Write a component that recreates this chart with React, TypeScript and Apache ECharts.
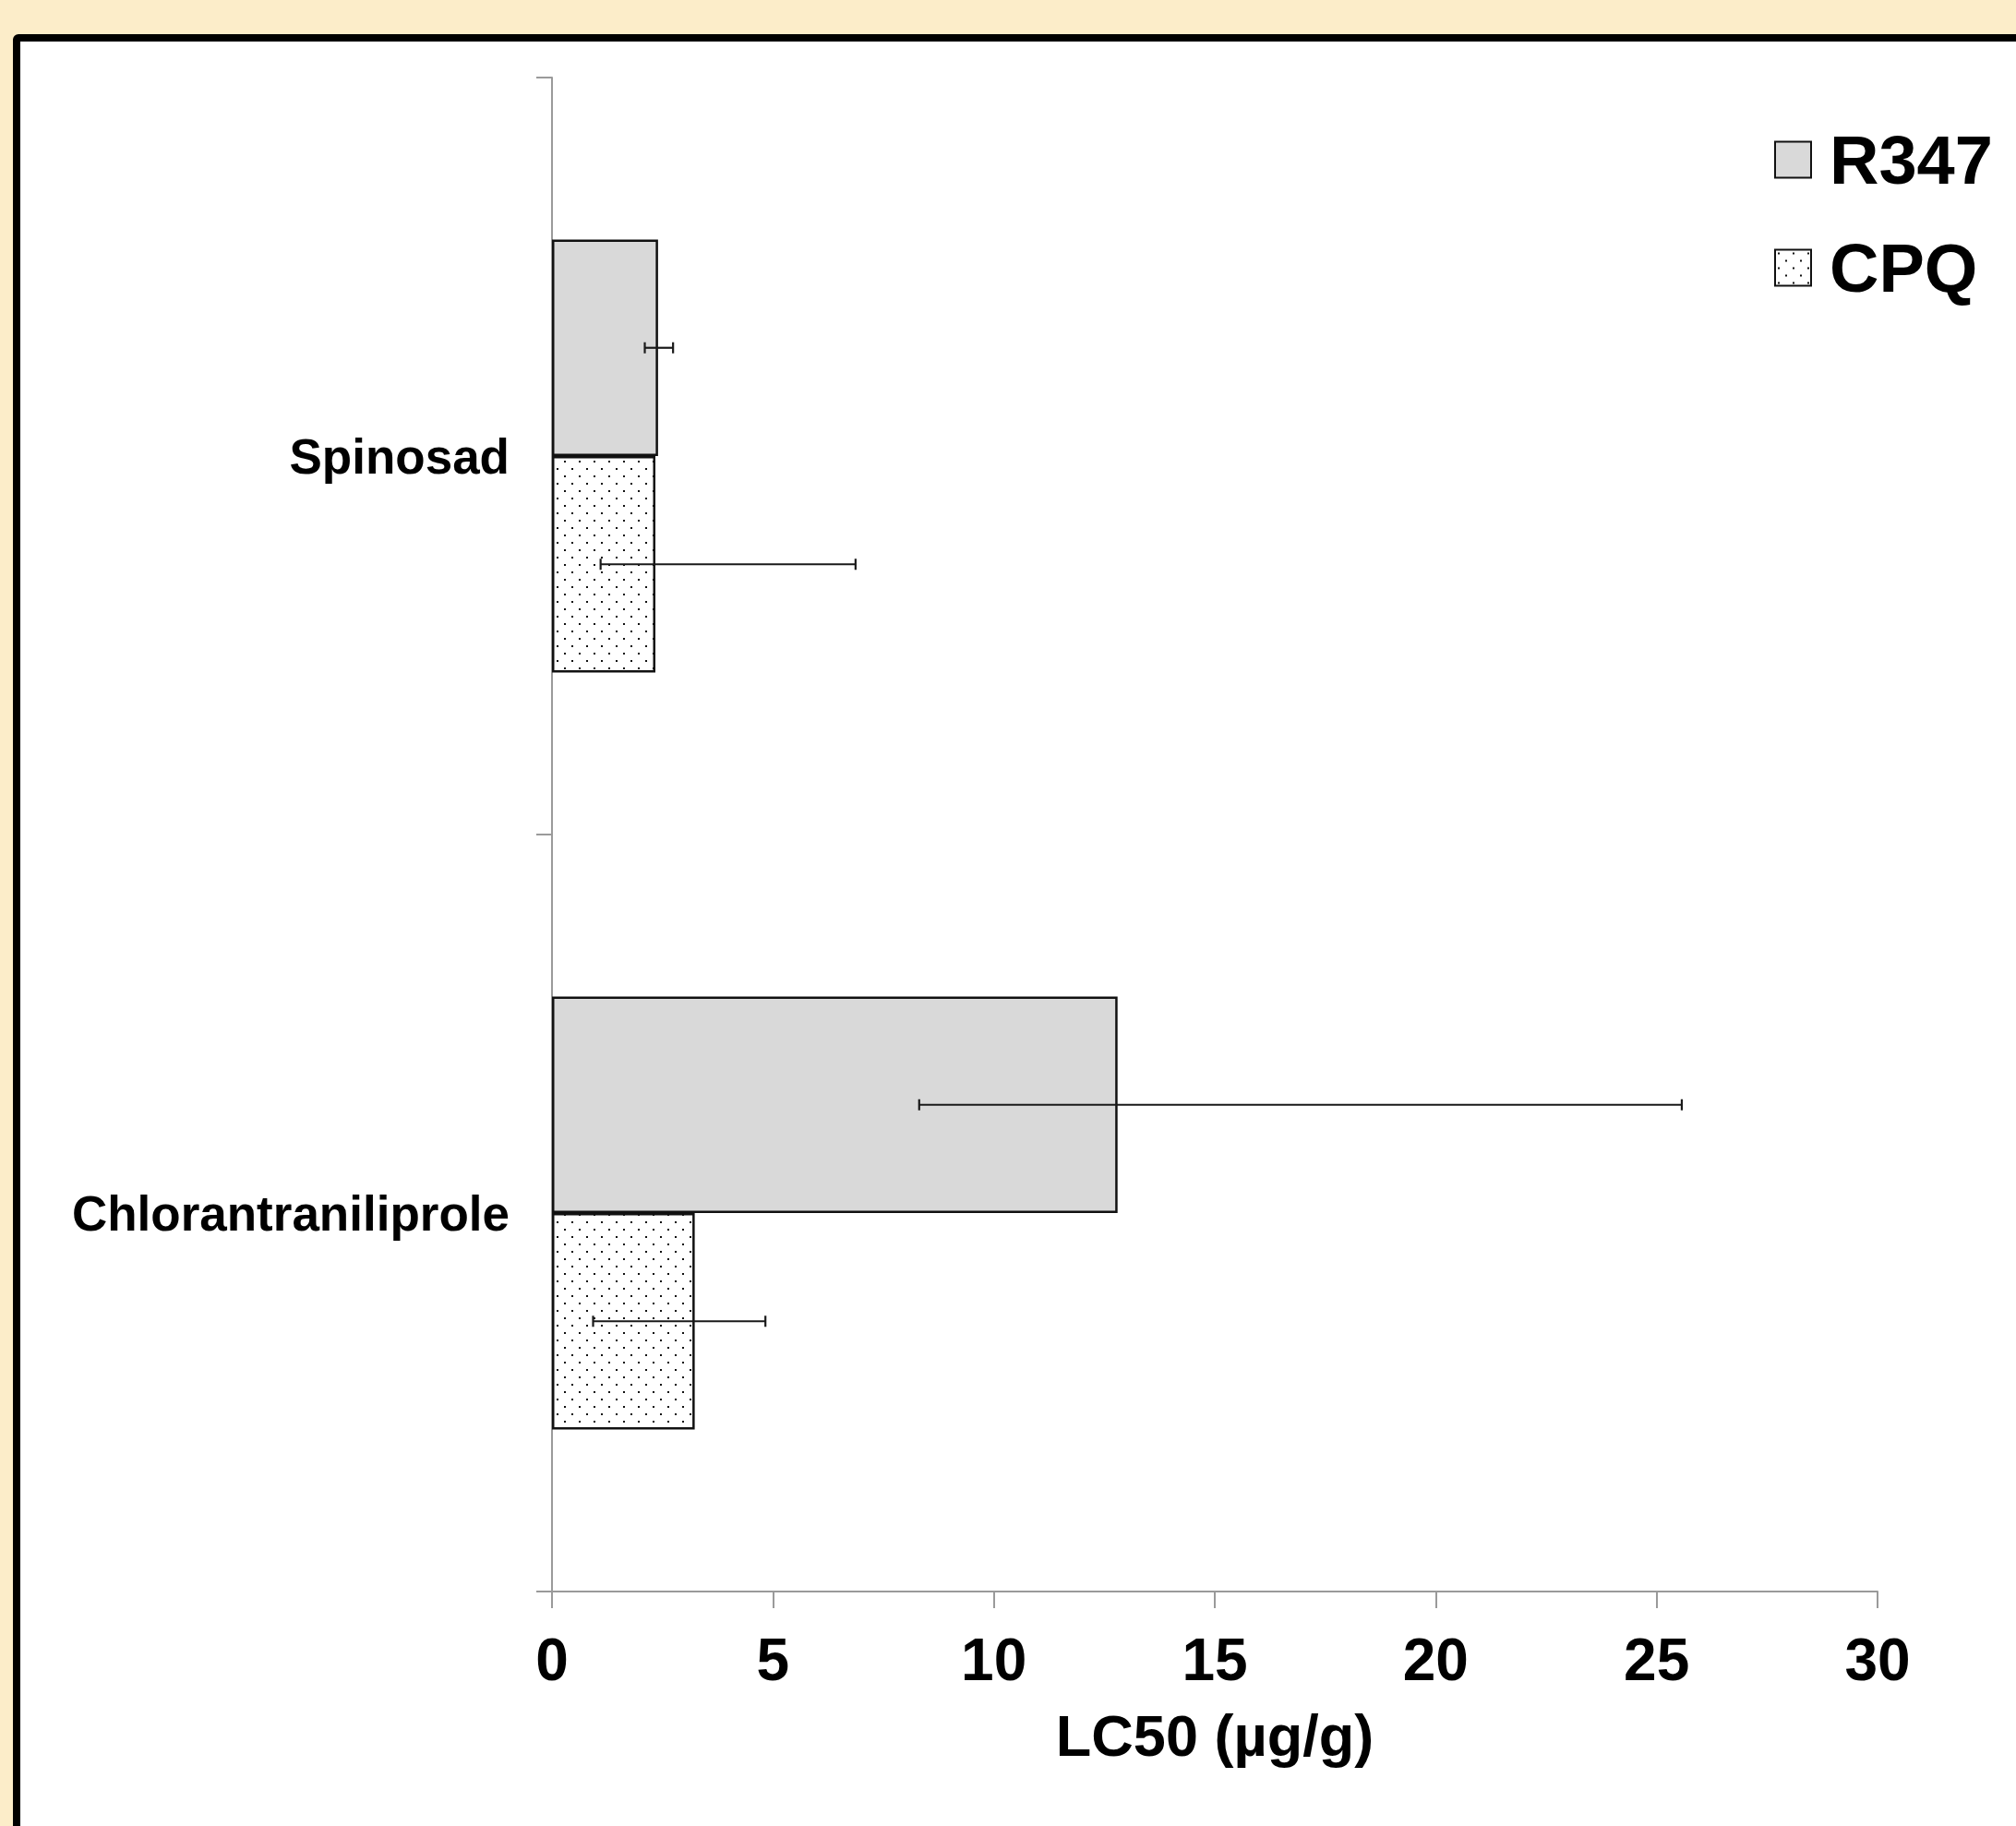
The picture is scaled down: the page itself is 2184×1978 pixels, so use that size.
import React, { useEffect, useRef } from "react";
import * as echarts from "echarts";

const categories = ["Spinosad", "Chlorantraniliprole"];
const seriesNames = ["R347", "CPQ"];
const r347Values = [2.4, 12.8];
const cpqValues = [2.34, 3.23];
const r347Low = [2.1, 8.31];
const r347High = [2.74, 25.57];
const cpqLow = [1.1, 0.93];
const cpqHigh = [6.87, 4.83];
const xMin = 0;
const xMax = 30;
const xInterval = 5;
const axisTitle = "LC50 (µg/g)";

const FONT = '"Liberation Sans", Arial, Helvetica, sans-serif';
const BAR_FRAC = 0.286;

function makeDotPattern() {
  const c = document.createElement("canvas");
  c.width = 16;
  c.height = 16;
  const ctx = c.getContext("2d")!;
  ctx.fillStyle = "#ffffff";
  ctx.fillRect(0, 0, 16, 16);
  ctx.fillStyle = "#111111";
  ctx.fillRect(3, 3, 2, 2);
  ctx.fillRect(11, 11, 2, 2);
  return c.toDataURL();
}

export default function App() {
  const ref = useRef<HTMLDivElement>(null);
  useEffect(() => {
    if (!ref.current) return;
    const chart = echarts.init(ref.current, null, { renderer: "svg" });
    const pattern = {
      image: makeDotPattern(),
      repeat: "repeat",
      imageWidth: 16,
      imageHeight: 16,
    };
    const errData: number[][] = [];
    categories.forEach((_, i) => {
      errData.push([i, r347Low[i], r347High[i], -1]);
      errData.push([i, cpqLow[i], cpqHigh[i], 1]);
    });
    const option: any = {
      animation: false,
      backgroundColor: "transparent",
      textStyle: { fontFamily: FONT },
      grid: { left: 598, right: 150, top: 84, bottom: 254 },
      legend: {
        data: seriesNames,
        orient: "vertical",
        left: 1922,
        top: 136,
        padding: 0,
        itemWidth: 39,
        itemHeight: 39,
        itemGap: 43,
        icon: "rect",
        textStyle: {
          fontSize: 74,
          lineHeight: 73,
          fontWeight: "bold",
          color: "#000",
          fontFamily: FONT,
          padding: [0, 0, 0, 15],
        },
      },
      xAxis: {
        type: "value",
        min: xMin,
        max: xMax,
        interval: xInterval,
        name: axisTitle,
        nameLocation: "middle",
        nameGap: 124,
        nameTextStyle: { fontSize: 63, fontWeight: "bold", color: "#000", fontFamily: FONT },
        axisLine: { show: true, lineStyle: { color: "#9a9a9a", width: 2 } },
        axisTick: { show: true, length: 18, lineStyle: { color: "#9a9a9a", width: 2 } },
        axisLabel: { fontSize: 64, fontWeight: "bold", color: "#000", margin: 42, fontFamily: FONT },
        splitLine: { show: false },
      },
      yAxis: {
        type: "category",
        data: categories,
        inverse: true,
        axisLine: { show: true, lineStyle: { color: "#9a9a9a", width: 2 } },
        axisTick: { show: true, length: 17, lineStyle: { color: "#9a9a9a", width: 2 } },
        axisLabel: { fontSize: 53, fontWeight: "bold", color: "#000", margin: 46, fontFamily: FONT },
        splitLine: { show: false },
      },
      series: [
        {
          name: seriesNames[0],
          type: "bar",
          data: r347Values,
          barWidth: "28.6%",
          barGap: "0%",
          itemStyle: { color: "#d9d9d9", borderColor: "#111", borderWidth: 2.5 },
        },
        {
          name: seriesNames[1],
          type: "bar",
          data: cpqValues,
          barWidth: "28.6%",
          barGap: "0%",
          itemStyle: { color: pattern, borderColor: "#111", borderWidth: 2.5 },
        },
        {
          type: "custom",
          name: "err",
          data: errData,
          encode: { x: [1, 2], y: 0 },
          z: 10,
          renderItem: (params: any, api: any) => {
            const cat = api.value(0);
            const lo = api.value(1);
            const hi = api.value(2);
            const side = api.value(3);
            const center = api.coord([0, cat]);
            const band = api.size([0, 1])[1];
            const y = center[1] + (side * band * BAR_FRAC) / 2;
            const x1 = api.coord([lo, cat])[0];
            const x2 = api.coord([hi, cat])[0];
            const st = { stroke: "#1a1a1a", lineWidth: 2.2 };
            return {
              type: "group",
              children: [
                { type: "line", shape: { x1, y1: y, x2, y2: y }, style: st },
                { type: "line", shape: { x1, y1: y - 6, x2: x1, y2: y + 6 }, style: st },
                { type: "line", shape: { x1: x2, y1: y - 6, x2, y2: y + 6 }, style: st },
              ],
            };
          },
        },
      ],
    };
    chart.setOption(option);
    return () => chart.dispose();
  }, []);
  return (
    <div
      style={{
        position: "absolute",
        left: 0,
        top: 0,
        width: 2184,
        height: 1978,
        background: "#FCEDC9",
        overflow: "hidden",
      }}
    >
      <div
        style={{
          position: "absolute",
          left: 14,
          top: 37,
          width: 2300,
          height: 2100,
          border: "8px solid #000",
          borderRadius: 6,
          background: "#fff",
        }}
      />
      <div ref={ref} style={{ position: "absolute", left: 0, top: 0, width: 2184, height: 1978 }} />
    </div>
  );
}
